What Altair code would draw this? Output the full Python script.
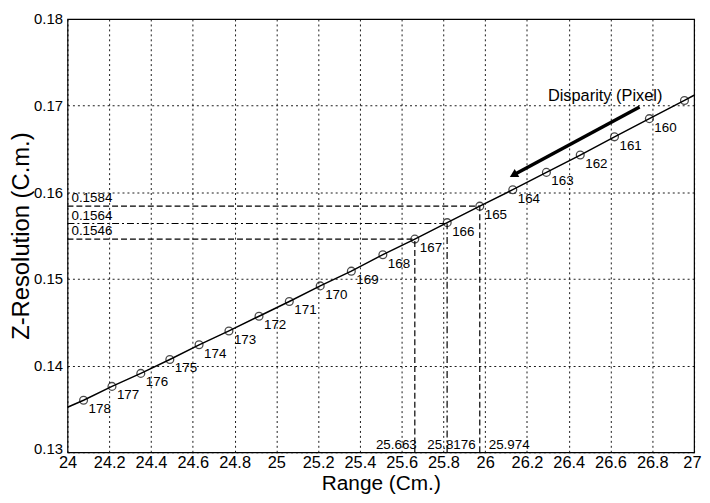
import altair as alt
import pandas as pd

# ---- data ----
disparity_labels = ["178", "177", "176", "175", "174", "173", "172", "171", "170", "169",
                    "168", "167", "166", "165", "164", "163", "162", "161", "160", ""]
range_cm = [24.077, 24.213, 24.351, 24.490, 24.630, 24.773, 24.917, 25.062, 25.210, 25.359,
            25.510, 25.663, 25.818, 25.974, 26.132, 26.293, 26.455, 26.619, 26.786, 26.954]
z_res = [0.1360, 0.1376, 0.1391, 0.1407, 0.1424, 0.1440, 0.1457, 0.1474, 0.1492, 0.1509,
         0.1528, 0.1546, 0.1565, 0.1584, 0.1603, 0.1623, 0.1643, 0.1664, 0.1685, 0.1706]

# curve continues to the plot edges
edge_range = [24.0, 27.0]
edge_res = [0.1352, 0.1712]

# reference (read-off) values
ref_range = [25.974, 25.8176, 25.663]
ref_res = [0.1584, 0.1564, 0.1546]
ref_res_text = ["0.1584", "0.1564", "0.1546"]
ref_range_text = ["25.974", "25.8176", "25.663"]
ref_style = ["dashed", "dashdot", "dashed"]

# arrow "Disparity (Pixel)"
arrow_range = [26.739, 26.135]
arrow_res = [0.16985, 0.1620]
arrow_text = "Disparity (Pixel)"

x_ticks = [24, 24.2, 24.4, 24.6, 24.8, 25, 25.2, 25.4, 25.6, 25.8, 26,
           26.2, 26.4, 26.6, 26.8, 27]
y_ticks = [0.13, 0.14, 0.15, 0.16, 0.17, 0.18]
x_domain = [24, 27]
y_domain = [0.13, 0.18]

# ---- tables ----
pts = pd.DataFrame({"range": range_cm, "res": z_res, "label": disparity_labels})
curve = pd.DataFrame({"range": [edge_range[0]] + range_cm + [edge_range[1]],
                      "res": [edge_res[0]] + z_res + [edge_res[1]]})
refs = pd.DataFrame({"range": ref_range, "res": ref_res, "rtext": ref_res_text,
                     "xtext": ref_range_text, "style": ref_style,
                     "x0": [x_domain[0]] * 3, "y0": [y_domain[0]] * 3})
arrow = pd.DataFrame({"range": [arrow_range[0]], "res": [arrow_res[0]],
                      "range2": [arrow_range[1]], "res2": [arrow_res[1]]})
arrow_tip = pd.DataFrame({"range": [arrow_range[1]], "res": [arrow_res[1]]})

FONT = "Liberation Sans"
x_scale = alt.Scale(domain=x_domain, nice=False, zero=False)
y_scale = alt.Scale(domain=y_domain, nice=False, zero=False)
x_axis = alt.Axis(values=x_ticks, format="~g", title="Range (Cm.)", labelPadding=2,
                  titlePadding=2, labelFlush=False, labelOverlap=False,
                  labelFontSize=16.5, titleFontSize=21,
                  labelAlign={"condition": {"test": "datum.value == 27", "value": "right"},
                              "value": "center"},
                  labelOffset={"condition": {"test": "datum.value == 27", "value": 7},
                               "value": 0})
y_axis = alt.Axis(values=y_ticks, format=".2f", title="Z-Resolution (C.m.)",
                  labelPadding=5, titlePadding=0, labelFlush=False, labelOverlap=False,
                  labelFontSize=15, titleFontSize=24,
                  labelOffset={"condition": {"test": "datum.value == 0.13", "value": -4},
                               "value": 0})


def X(field):
    return alt.X(field, type="quantitative", scale=x_scale, axis=x_axis)


def Y(field):
    return alt.Y(field, type="quantitative", scale=y_scale, axis=y_axis)


line = alt.Chart(curve).mark_line(color="black", strokeWidth=1.5, clip=True).encode(
    x=X("range"), y=Y("res"), order="range:Q")

circles = alt.Chart(pts).mark_point(shape="circle", size=62, color="black",
                                    strokeWidth=1.3, filled=False).encode(
    x=X("range"), y=Y("res"))

labels = alt.Chart(pts).mark_text(align="left", baseline="alphabetic", dx=5, dy=13,
                                  font=FONT, fontSize=13.5, color="black").encode(
    x=X("range"), y=Y("res"), text="label:N")

dash_map = {"dashed": [6, 3], "dashdot": [7, 3, 2, 3]}
ref_layers = []
for style, dash in dash_map.items():
    src = alt.Chart(refs).transform_filter(alt.datum.style == style)
    ref_layers.append(src.mark_rule(color="black", strokeWidth=1.2, strokeDash=dash).encode(
        x=X("x0"), x2="range", y=Y("res")))
    ref_layers.append(src.mark_rule(color="black", strokeWidth=1.2, strokeDash=dash).encode(
        x=X("range"), y=Y("y0"), y2="res"))

ref_res_labels = alt.Chart(refs).mark_text(align="left", baseline="alphabetic", dx=4, dy=-4,
                                           font=FONT, fontSize=13.5, color="black").encode(
    x=X("x0"), y=Y("res"), text="rtext:N")

xtext_specs = [("25.663", "right", 2), ("25.8176", "left", -20), ("25.974", "left", 9)]
xtext_layers = []
for txt, al, dx in xtext_specs:
    xtext_layers.append(
        alt.Chart(refs).transform_filter(alt.datum.xtext == txt).mark_text(
            align=al, baseline="alphabetic", dx=dx, dy=-3, font=FONT, fontSize=13.5,
            color="black").encode(x=X("range"), y=Y("y0"), text="xtext:N"))

arrow_line = alt.Chart(arrow).mark_rule(color="black", strokeWidth=3.5).encode(
    x=X("range"), y=Y("res"), x2="range2", y2="res2")
arrow_head = alt.Chart(arrow_tip).mark_point(shape="triangle-up", size=90, filled=True,
                                             color="black", opacity=1, angle=241).encode(
    x=X("range"), y=Y("res"))
arrow_label = alt.Chart(pd.DataFrame({"range": [arrow_range[0]], "res": [arrow_res[0]],
                                      "t": [arrow_text]})).mark_text(
    align="right", baseline="alphabetic", dx=23, dy=-6, font=FONT, fontSize=16.5,
    color="black").encode(x=X("range"), y=Y("res"), text="t:N")

chart = alt.layer(line, circles, labels, *ref_layers, ref_res_labels, *xtext_layers,
                  arrow_line, arrow_head, arrow_label).properties(
    width=632, height=437,
    autosize=alt.AutoSizeParams(type="none"),
    padding={"left": 60, "top": 9, "right": 8, "bottom": 40},
    background="white",
).configure_view(stroke="black", strokeWidth=1.2).configure_axis(
    grid=True, gridColor="black", gridDash=[2, 3], gridWidth=0.9, gridOpacity=1,
    domain=False, ticks=False,
    labelFont=FONT, labelColor="black",
    titleFont=FONT, titleFontWeight="normal", titleColor="black",
)

chart.save("out.html", embed_options={"renderer": "svg", "actions": False})
